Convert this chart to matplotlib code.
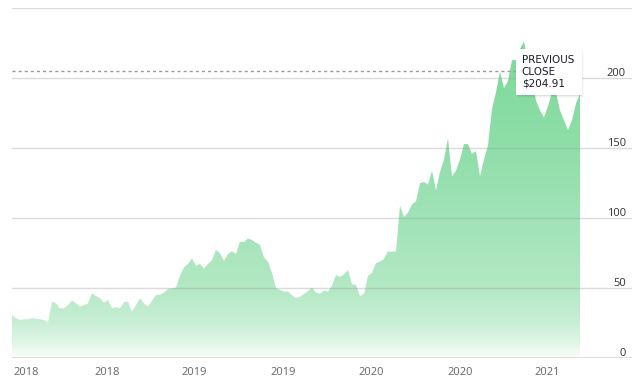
import numpy as np
import matplotlib.pyplot as plt
from matplotlib.patches import Rectangle
import matplotlib.transforms as mtransforms

# Closing prices (roughly evenly spaced samples)
prices = [
    30.9, 28.6, 27.4, 27.9, 27.9, 28.6, 28.4, 27.9, 27.4, 25.7,
    40.4, 39.3, 35.7, 35.7, 38.0, 41.2, 39.3, 36.9, 38.0, 39.3,
    46.4, 44.5, 42.9, 39.7, 41.6, 35.7, 36.5, 35.7, 40.0, 40.5,
    33.3, 38.0, 42.9, 39.0, 37.0, 41.0, 45.2, 45.2, 47.0, 49.5,
    50.0, 50.5, 59.0, 65.0, 67.4, 71.4, 66.0, 67.5, 64.0, 67.5,
    70.0, 77.5, 75.0, 69.5, 74.5, 76.5, 74.5, 83.3, 83.0, 85.5,
    84.5, 82.5, 81.0, 72.0, 69.0, 61.0, 50.0, 48.8, 47.6, 47.8,
    45.0, 43.0, 44.0, 46.0, 48.0, 50.5, 47.0, 46.0, 48.5, 47.5,
    52.0, 59.5, 58.0, 60.0, 63.0, 53.0, 52.4, 44.5, 46.0, 59.0,
    61.0, 68.0, 69.0, 71.0, 76.5, 76.0, 76.5, 109.0, 101.0, 104.0,
    110.0, 112.0, 125.0, 126.0, 124.0, 134.0, 120.0, 133.0, 142.0, 157.0,
    130.0, 134.0, 142.0, 153.0, 153.0, 146.0, 148.0, 130.0, 142.0, 152.0,
    178.0, 190.0, 204.7, 193.0, 198.0, 213.0, 213.0, 221.0, 226.0, 212.0,
    200.0, 184.0, 177.0, 172.0, 180.0, 190.0, 190.0, 177.0, 170.0, 163.0,
    170.0, 182.0, 189.0,
]
year_labels = ['2018', '2018', '2019', '2019', '2020', '2020', '2021']
y_ticks = [0, 50, 100, 150, 200]
grid_levels = [50, 100, 150, 200, 250]
previous_close = 204.91

# Layout (sample index positions of the year labels)
label_pos = [3.5, 23.8, 45.5, 67.7, 89.9, 112.0, 133.7]
x = np.arange(len(prices))
y_max = 250

fig = plt.figure(figsize=(6.39, 3.82), dpi=100)
ax = fig.add_axes([12 / 639, (382 - 358.3) / 382, 620 / 639, 350 / 382])
ax.set_xlim(0, 155)
ax.set_ylim(0, y_max)

# Gradient fill under the price line, clipped to the area polygon
green = np.array([124, 216, 154]) / 255
stops = [0, 10, 25, 50, 100, 150, 226]
alphas = [0.05, 0.22, 0.42, 0.58, 0.72, 0.85, 1.0]
levels = np.linspace(0, y_max, 500)
a = np.interp(levels, stops, alphas)[:, None]
grad = (1 - a) * np.ones(3) + a * green
grad = grad[::-1][:, None, :]

poly = ax.fill_between(x, 0, prices, color='none', lw=0)
img = ax.imshow(grad, extent=(0, len(prices) - 1, 0, y_max), aspect='auto',
                origin='upper', zorder=1)
img.set_clip_path(poly.get_paths()[0], transform=ax.transData)

# Grid lines and base line drawn over the area
for level in grid_levels:
    ax.axhline(level, color=(0.6, 0.6, 0.6), alpha=0.35, lw=1, zorder=2)
ax.axhline(0, color='#d8d8d8', lw=1.2, zorder=2)

# Previous close dashed line
ax.axhline(previous_close, xmin=0, xmax=0.813, color='#9a9a9a', lw=1,
           dashes=(2.2, 2.2), zorder=3)

# y labels sit on the right, just above their grid line
offset = mtransforms.ScaledTranslation(0, 1.5 / 72, fig.dpi_scale_trans)
trans = mtransforms.blended_transform_factory(ax.transAxes, ax.transData) + offset
for t in y_ticks:
    ax.text(0.990, t, str(t), transform=trans, ha='right', va='baseline',
            fontsize=8, family='Open Sans', color='#333333')

# x labels
ax.set_xticks(label_pos)
ax.set_xticklabels(year_labels, family='Open Sans', fontsize=8, color='#666666')
ax.tick_params(axis='x', length=0, pad=6)
ax.set_yticks([])
for side in ['top', 'right', 'left', 'bottom']:
    ax.spines[side].set_visible(False)

# Tooltip box for previous close
for i, al in enumerate([0.06, 0.04, 0.02]):
    ax.add_patch(Rectangle((0.813 + 0.001 * (i + 1), 0.752 - 0.003 * (i + 1)),
                           0.106, 0.131, transform=ax.transAxes,
                           facecolor='black', alpha=al, lw=0, zorder=4))
ax.add_patch(Rectangle((0.813, 0.752), 0.106, 0.131, transform=ax.transAxes,
                       facecolor='white', edgecolor='none', zorder=5))
tip_lines = ['PREVIOUS', 'CLOSE', f'${previous_close:.2f}']
for line, ty in zip(tip_lines, [0.852, 0.819, 0.786]):
    ax.text(0.822, ty, line, transform=ax.transAxes, ha='left', va='center',
            fontsize=7.5, family='DejaVu Sans', color='#1b1b2b', zorder=6)

fig.savefig('out.png', dpi=100)
